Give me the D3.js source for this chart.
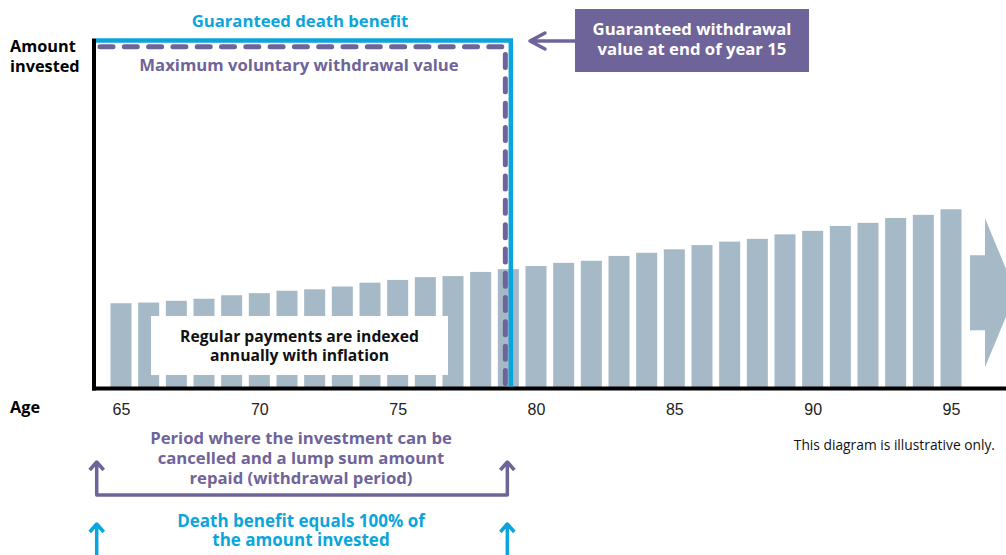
<!DOCTYPE html>
<html lang="en">
<head>
<meta charset="UTF-8">
<title>Guaranteed withdrawal diagram</title>
<script src="https://d3js.org/d3.v7.min.js"></script>
<style>
  html, body { margin: 0; padding: 0; background: #fff; }
  svg { display: block; font-family: "Open Sans", "Noto Sans", sans-serif; }
</style>
</head>
<body>
<div id="chart"></div>
<script>
// ages on the x axis and the regular payment size (amount invested = 100)
const ages = d3.range(65, 96);
const payments = [24.5, 24.7, 25.2, 25.8, 26.8, 27.4, 28.1, 28.5, 29.3, 30.4,
                  31.2, 32.0, 32.3, 33.5, 34.3, 35.2, 36.1, 36.7, 38.1, 39.0,
                  40.0, 41.2, 42.2, 43.0, 44.3, 45.3, 46.7, 47.6, 49.0, 49.9, 51.5];
const tickAges = [65, 70, 75, 80, 85, 90, 95];
const amountInvested = 100;
const maxWithdrawal = 98.2;
const periodEndAge = 79;

const colors = {
  bar: "#a6b9c6",
  blue: "#0ba5dd",
  purple: "#6f6499",
  black: "#000"
};

const W = 1006, H = 555;
const svg = d3.select("#chart").append("svg")
  .attr("width", W).attr("height", H);

const x = d3.scaleLinear().domain([65, 95]).range([121, 951]);
const y = d3.scaleLinear().domain([0, amountInvested]).range([388.5, 40.5]);
const barW = 21;

// soft edge on the bars
const defs = svg.append("defs");
defs.append("filter").attr("id", "soft")
  .attr("x", "-10%").attr("y", "-10%").attr("width", "120%").attr("height", "120%")
  .append("feGaussianBlur").attr("stdDeviation", 0.7);

svg.append("g").attr("filter", "url(#soft)")
  .selectAll("rect").data(ages).enter().append("rect")
  .attr("x", d => x(d) - barW / 2)
  .attr("width", barW)
  .attr("y", (d, i) => y(payments[i]))
  .attr("height", (d, i) => y(0) - y(payments[i]))
  .attr("fill", colors.bar);

// continuation arrow on the right
const ay = y(27.5);
svg.append("path")
  .attr("d", `M970,${ay - 37.5}H985V${ay - 74.5}L1016,${ay}L985,${ay + 74.5}V${ay + 37.5}H970Z`)
  .attr("fill", colors.bar);

// white label box over the bars
svg.append("rect").attr("x", 151).attr("y", 316).attr("width", 297).attr("height", 59)
  .attr("fill", "#fff");
svg.append("text").attr("x", 299.5).attr("y", 341.5)
  .attr("text-anchor", "middle").attr("font-size", 15.7).attr("font-weight", 700)
  .attr("fill", "#111")
  .selectAll("tspan").data(["Regular payments are indexed", "annually with inflation"])
  .enter().append("tspan").attr("x", 299.5).attr("dy", (d, i) => i ? 19 : 0).text(d => d);

// axes
const xAxis = svg.append("g")
  .attr("transform", `translate(0,${y(0)})`)
  .call(d3.axisBottom(x).tickValues(tickAges).tickSize(0).tickPadding(10));
xAxis.select(".domain").remove();
xAxis.selectAll("text").attr("font-size", 16).attr("font-family", null)
  .attr("fill", "#222").attr("dy", "1.05em");

svg.append("line").attr("x1", 92).attr("x2", W).attr("y1", y(0)).attr("y2", y(0))
  .attr("stroke", colors.black).attr("stroke-width", 4);
svg.append("line").attr("x1", 94).attr("x2", 94).attr("y1", 38.5).attr("y2", y(0) + 2)
  .attr("stroke", colors.black).attr("stroke-width", 4);

// guaranteed death benefit line
const xb = x(periodEndAge) + 2.5;
svg.append("path")
  .attr("d", `M96,${y(amountInvested)}H${xb}V${y(0) - 2}`)
  .attr("fill", "none").attr("stroke", colors.blue).attr("stroke-width", 4.5);

// maximum voluntary withdrawal value (dashed)
const xp = x(periodEndAge) - 3;
svg.append("path")
  .attr("d", `M100,${y(maxWithdrawal)}H${xp}V${y(0) - 4}`)
  .attr("fill", "none").attr("stroke", colors.purple).attr("stroke-width", 5)
  .attr("stroke-linecap", "round").attr("stroke-dasharray", "13,11.3");

// left labels
const bold = (sel, size = 16.7) => sel.attr("font-weight", 700).attr("font-size", size);
bold(svg.append("text").attr("x", 10).attr("y", 52).attr("fill", colors.black), 16.3).text("Amount");
bold(svg.append("text").attr("x", 10).attr("y", 71.5).attr("fill", colors.black), 16.3).text("invested");
bold(svg.append("text").attr("x", 10).attr("y", 413).attr("fill", colors.black), 16.3).text("Age");

bold(svg.append("text").attr("x", 300).attr("y", 27).attr("text-anchor", "middle")
  .attr("fill", colors.blue)).text("Guaranteed death benefit");
bold(svg.append("text").attr("x", 299).attr("y", 71).attr("text-anchor", "middle")
  .attr("fill", colors.purple)).text("Maximum voluntary withdrawal value");

// purple callout box
svg.append("rect").attr("x", 575).attr("y", 9).attr("width", 234).attr("height", 63)
  .attr("fill", colors.purple);
bold(svg.append("text").attr("text-anchor", "middle").attr("fill", "#fff"))
  .selectAll("tspan").data(["Guaranteed withdrawal", "value at end of year 15"])
  .enter().append("tspan").attr("x", 692).attr("y", (d, i) => i ? 55 : 35).text(d => d);
svg.append("path").attr("d", "M575,41H530M545,33L530,41L545,49")
  .attr("fill", "none").attr("stroke", colors.purple).attr("stroke-width", 3.5)
  .attr("stroke-linecap", "round").attr("stroke-linejoin", "round");

// note
svg.append("text").attr("x", 995).attr("y", 450).attr("text-anchor", "end")
  .attr("font-size", 13.8).attr("fill", "#111").text("This diagram is illustrative only.");

// withdrawal period bracket
const xl = 96.7, xr = x(periodEndAge) - 1;
svg.append("path")
  .attr("d", `M${xl},463V495H${xr}V463M${xl - 7},470L${xl},462L${xl + 7},470M${xr - 7},470L${xr},462L${xr + 7},470`)
  .attr("fill", "none").attr("stroke", colors.purple).attr("stroke-width", 3.5)
  .attr("stroke-linejoin", "round");
bold(svg.append("text").attr("text-anchor", "middle").attr("fill", colors.purple))
  .selectAll("tspan")
  .data(["Period where the investment can be", "cancelled and a lump sum amount", "repaid (withdrawal period)"])
  .enter().append("tspan").attr("x", 301).attr("y", (d, i) => 443.5 + i * 20).text(d => d);

// death benefit arrows
svg.append("path")
  .attr("d", `M${xl},${H}V524M${xl - 7},532L${xl},524L${xl + 7},532M${xr},${H}V524M${xr - 7},532L${xr},524L${xr + 7},532`)
  .attr("fill", "none").attr("stroke", colors.blue).attr("stroke-width", 3.5)
  .attr("stroke-linejoin", "round");
bold(svg.append("text").attr("text-anchor", "middle").attr("fill", colors.blue), 17)
  .selectAll("tspan")
  .data(["Death benefit equals 100% of", "the amount invested"])
  .enter().append("tspan").attr("x", 301).attr("y", (d, i) => 527 + i * 18.5).text(d => d);
</script>
</body>
</html>
